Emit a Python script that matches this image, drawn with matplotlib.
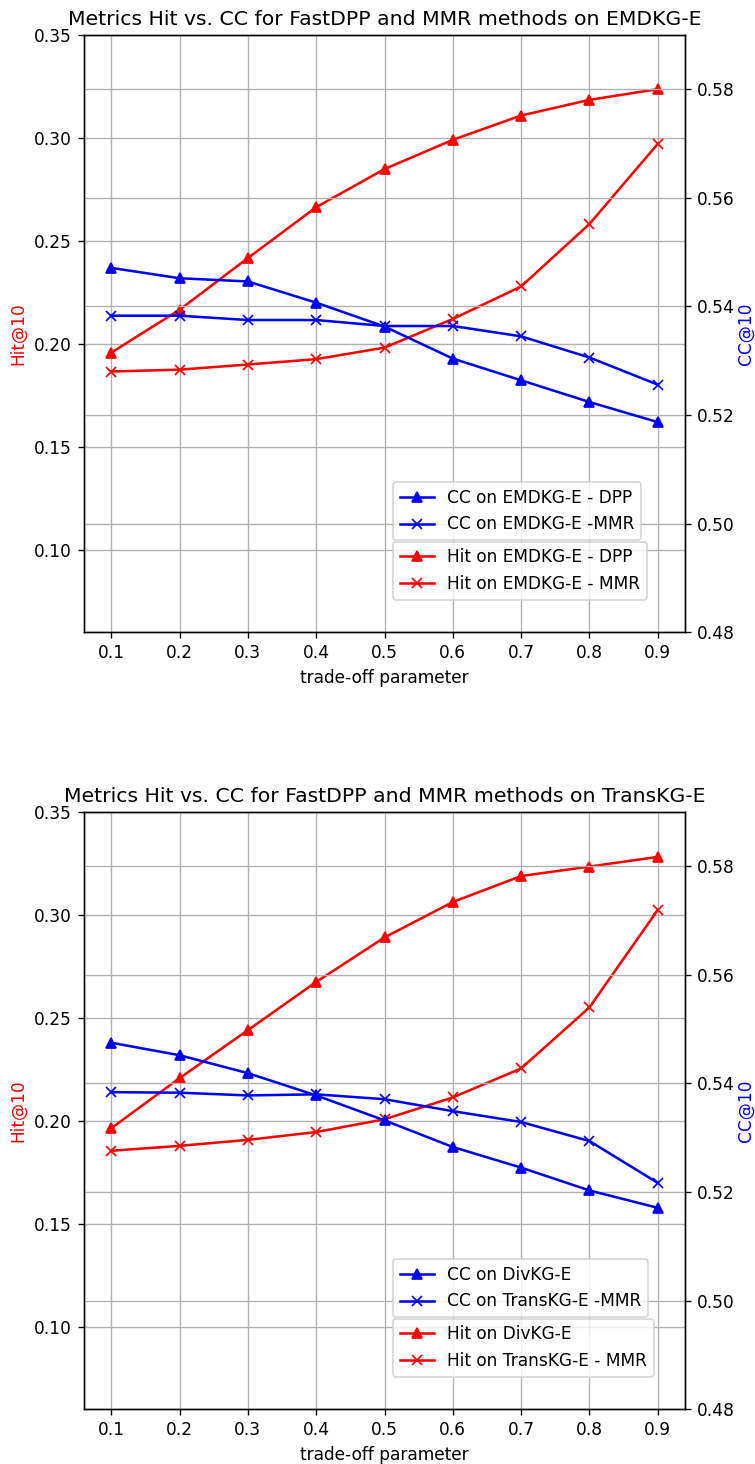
import matplotlib
matplotlib.use('Agg')
import matplotlib.pyplot as plt

# trade-off parameter
params = [0.1, 0.2, 0.3, 0.4, 0.5, 0.6, 0.7, 0.8, 0.9]

# EMDKG-E (top)
hit_dpp_emd = [0.1958, 0.2166, 0.2417, 0.2664, 0.2849, 0.2991, 0.3109, 0.3185, 0.3237]
hit_mmr_emd = [0.1866, 0.1875, 0.1900, 0.1926, 0.1982, 0.2121, 0.2279, 0.2582, 0.2971]
cc_dpp_emd = [0.5471, 0.5452, 0.5446, 0.5407, 0.5363, 0.5304, 0.5264, 0.5224, 0.5187]
cc_mmr_emd = [0.5383, 0.5383, 0.5375, 0.5375, 0.5364, 0.5364, 0.5345, 0.5306, 0.5256]

# TransKG-E / DivKG-E (bottom)
hit_dpp_trans = [0.1965, 0.2208, 0.2441, 0.2675, 0.2891, 0.3063, 0.3189, 0.3235, 0.3282]
hit_mmr_trans = [0.1855, 0.1879, 0.1908, 0.1946, 0.2008, 0.2114, 0.2255, 0.2551, 0.3024]
cc_dpp_trans = [0.5475, 0.5452, 0.5419, 0.5378, 0.5332, 0.5283, 0.5245, 0.5203, 0.5171]
cc_mmr_trans = [0.5384, 0.5383, 0.5378, 0.5380, 0.5371, 0.5349, 0.5329, 0.5294, 0.5217]

panels = [
    ('Metrics Hit vs. CC for FastDPP and MMR methods on EMDKG-E',
     hit_dpp_emd, hit_mmr_emd, cc_dpp_emd, cc_mmr_emd,
     ['CC on EMDKG-E - DPP', 'CC on EMDKG-E -MMR'],
     ['Hit on EMDKG-E - DPP', 'Hit on EMDKG-E - MMR']),
    ('Metrics Hit vs. CC for FastDPP and MMR methods on TransKG-E',
     hit_dpp_trans, hit_mmr_trans, cc_dpp_trans, cc_mmr_trans,
     ['CC on DivKG-E', 'CC on TransKG-E -MMR'],
     ['Hit on DivKG-E', 'Hit on TransKG-E - MMR']),
]

dpi = 122
fig, axes = plt.subplots(2, 1, figsize=(755 / dpi, 1464 / dpi), dpi=dpi)
plt.subplots_adjust(left=0.1113, right=0.9073, top=0.9761, bottom=0.0374, hspace=0.301)

for ax1, (title, hd, hm, cd, cm, cc_labels, hit_labels) in zip(axes, panels):
    ax2 = ax1.twinx()

    h1, = ax1.plot(params, hd, color='red', marker='^')
    h2, = ax1.plot(params, hm, color='red', marker='x')
    c1, = ax2.plot(params, cd, color='blue', marker='^')
    c2, = ax2.plot(params, cm, color='blue', marker='x')

    ax1.set_ylim(0.06, 0.35)
    ax2.set_ylim(0.48, 0.59)
    ax1.set_yticks([0.10, 0.15, 0.20, 0.25, 0.30, 0.35])
    ax2.set_yticks([0.48, 0.50, 0.52, 0.54, 0.56, 0.58])
    ax1.set_xticks(params)

    ax1.grid(True)
    ax2.grid(True)

    ax1.set_xlabel('trade-off parameter')
    ax1.set_ylabel('Hit@10', color='red')
    ax2.set_ylabel('CC@10', color='blue', labelpad=1)
    ax1.set_title(title)

    # both legends sit on the twin axes so they cover every grid line
    leg_cc = ax2.legend([c1, c2], cc_labels, loc='lower left',
                        bbox_to_anchor=(0.514, 0.154), borderaxespad=0)
    ax2.add_artist(leg_cc)
    ax2.legend([h1, h2], hit_labels, loc='lower left',
               bbox_to_anchor=(0.514, 0.0547), borderaxespad=0)

plt.savefig('out.png', dpi=dpi)
